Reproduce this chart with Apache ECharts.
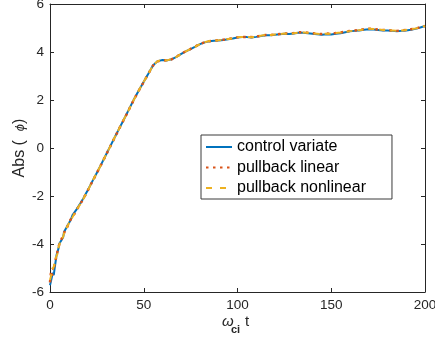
<!DOCTYPE html>
<html>
<head>
<meta charset="utf-8">
<script src="https://cdn.jsdelivr.net/npm/echarts@6/dist/echarts.min.js"></script>
<style>html,body{margin:0;padding:0;background:#fff}#c{width:435px;height:342px}</style>
</head>
<body>
<div id="c"></div>
<script>
const xTicks = [0, 50, 100, 150, 200];
const yTicks = [-6, -4, -2, 0, 2, 4, 6];
const seriesNames = ['control variate', 'pullback linear', 'pullback nonlinear'];

const t = [0,0.5,1,1.5,2,2.5,3,3.5,4,4.5,5,5.5,6,7,7.5,8,9,10,11,12,13,14,15,16,17,18,19,20,
  22.5,25,27.5,30,32.5,35,37.5,40,42.5,45,47.5,50,52.5,55,57.5,60,62.5,65,67.5,70,
  72.5,75,77.5,80,82.5,85,87.5,90,92.5,95,97.5,100,102.5,105,107.5,110,112.5,115,117.5,120,
  122.5,125,127.5,130,132.5,135,137.5,140,142.5,145,147.5,150,152.5,155,157.5,160,162.5,165,167.5,170,
  172.5,175,177.5,180,182.5,185,187.5,190,192.5,195,197.5,200];

const controlVariate = [-5.72,-5.55,-5.62,-5.2,-5.3,-5.0,-4.95,-4.45,-4.5,-4.2,-3.98,-4.05,-3.85,-3.72,-3.5,-3.55,-3.28,-3.2,-3.0,-2.8,-2.72,-2.58,-2.45,-2.33,-2.2,-2.08,-1.92,-1.78,
  -1.4,-1.03,-0.65,-0.26,0.13,0.52,0.9,1.28,1.67,2.06,2.42,2.76,3.1,3.45,3.62,3.67,3.65,3.7,3.8,3.92,
  4.03,4.12,4.22,4.33,4.4,4.45,4.47,4.48,4.5,4.53,4.56,4.6,4.62,4.62,4.6,4.63,4.67,4.7,4.7,4.72,
  4.74,4.76,4.75,4.77,4.8,4.8,4.78,4.76,4.74,4.72,4.74,4.73,4.76,4.78,4.82,4.86,4.88,4.9,4.93,4.95,
  4.94,4.92,4.9,4.9,4.88,4.86,4.88,4.9,4.93,4.97,5.02,5.08];

const pullbackLinear = [-5.6,-5.2,-5.35,-5.0,-5.1,-4.8,-4.85,-4.5,-4.3,-4.35,-4.0,-3.9,-3.95,-3.65,-3.6,-3.45,-3.35,-3.12,-3.05,-2.85,-2.75,-2.6,-2.48,-2.35,-2.22,-2.06,-1.95,-1.8,
  -1.41,-1.04,-0.66,-0.27,0.12,0.51,0.9,1.27,1.66,2.05,2.41,2.75,3.1,3.44,3.61,3.66,3.64,3.7,3.81,3.93,
  4.03,4.13,4.23,4.33,4.41,4.45,4.48,4.49,4.51,4.54,4.57,4.61,4.63,4.63,4.62,4.64,4.68,4.71,4.71,4.73,
  4.75,4.77,4.77,4.79,4.82,4.82,4.8,4.78,4.76,4.75,4.77,4.76,4.79,4.81,4.85,4.88,4.9,4.92,4.95,4.97,
  4.96,4.94,4.92,4.91,4.9,4.88,4.9,4.92,4.95,4.98,5.03,5.08];

const pullbackNonlinear = [-5.5,-5.35,-5.1,-5.15,-4.95,-4.9,-4.6,-4.6,-4.4,-4.15,-4.1,-3.9,-3.8,-3.7,-3.55,-3.5,-3.3,-3.15,-3.02,-2.88,-2.74,-2.62,-2.47,-2.36,-2.21,-2.09,-1.94,-1.8,
  -1.4,-1.03,-0.66,-0.26,0.12,0.52,0.9,1.28,1.66,2.05,2.42,2.76,3.1,3.45,3.62,3.67,3.65,3.71,3.8,3.92,
  4.03,4.13,4.22,4.33,4.41,4.46,4.48,4.49,4.51,4.54,4.57,4.61,4.63,4.63,4.61,4.64,4.68,4.71,4.71,4.73,
  4.75,4.77,4.76,4.78,4.81,4.81,4.8,4.77,4.76,4.75,4.76,4.76,4.79,4.81,4.84,4.87,4.89,4.91,4.94,4.97,
  4.96,4.94,4.92,4.91,4.9,4.88,4.9,4.92,4.95,4.98,5.03,5.08];

const FONT = 'Liberation Sans, Arial, Helvetica, sans-serif';
const AX = '#262626';
const zip = v => t.map((x, i) => [x, v[i]]);

const chart = echarts.init(document.getElementById('c'), null, {renderer: 'canvas'});

const baseX = {
  type: 'value', min: xTicks[0], max: xTicks[xTicks.length - 1], interval: xTicks[1] - xTicks[0],
  splitLine: {show: false},
  axisLine: {show: true, onZero: false, lineStyle: {color: AX, width: 1}},
  axisTick: {show: true, inside: true, length: 4, lineStyle: {color: AX}}
};
const baseY = {
  type: 'value', min: yTicks[0], max: yTicks[yTicks.length - 1], interval: yTicks[1] - yTicks[0],
  splitLine: {show: false},
  axisLine: {show: true, onZero: false, lineStyle: {color: AX, width: 1}},
  axisTick: {show: true, inside: true, length: 4, lineStyle: {color: AX}}
};

chart.setOption({
  animation: false,
  backgroundColor: '#fff',
  textStyle: {fontFamily: FONT},
  grid: {left: 50, right: 10, top: 4, bottom: 50, containLabel: false, outerBoundsMode: 'none'},
  xAxis: [
    Object.assign({}, baseX, {position: 'bottom',
      axisLabel: {show: true, color: AX, fontSize: 13.5, fontFamily: FONT, margin: 6}}),
    Object.assign({}, baseX, {position: 'top', axisLabel: {show: false}})
  ],
  yAxis: [
    Object.assign({}, baseY, {position: 'left',
      axisLabel: {show: true, color: AX, fontSize: 13.5, fontFamily: FONT, margin: 6},
      name: '{a|Abs (  }{p|ϕ}{a|)}', nameLocation: 'middle', nameRotate: 90, nameGap: 22,
      nameMoveOverlap: false,
      nameTextStyle: {rich: {
        a: {fontSize: 16, color: AX, fontFamily: FONT},
        p: {fontSize: 13, color: AX, fontFamily: FONT, fontStyle: 'italic'}
      }}}),
    Object.assign({}, baseY, {position: 'right', axisLabel: {show: false}})
  ],
  legend: {
    orient: 'vertical', left: 201, top: 135,
    backgroundColor: '#fff', borderColor: '#3a3a3a', borderWidth: 1,
    padding: [4, 26, 3, 4], itemWidth: 26, itemHeight: 14, itemGap: 4.5,
    itemStyle: {opacity: 0, color: 'transparent', borderWidth: 0},
    textStyle: {fontSize: 16, color: '#000', fontFamily: FONT},
    data: [
      {name: seriesNames[0]},
      {name: seriesNames[1]},
      {name: seriesNames[2], lineStyle: {type: [6, 8]}}
    ]
  },
  series: [
    {name: seriesNames[0], type: 'line', data: zip(controlVariate), showSymbol: false, symbol: 'none',
      lineStyle: {color: '#0072BD', width: 2}, itemStyle: {color: '#0072BD'}, z: 2},
    {name: seriesNames[1], type: 'line', data: zip(pullbackLinear), showSymbol: false, symbol: 'none',
      lineStyle: {color: '#D95319', width: 2.5, type: [2.5, 4.5]}, itemStyle: {color: '#D95319'}, z: 3},
    {name: seriesNames[2], type: 'line', data: zip(pullbackNonlinear), showSymbol: false, symbol: 'none',
      lineStyle: {color: '#EDB120', width: 2, type: [6, 5]}, itemStyle: {color: '#EDB120'}, z: 4}
  ],
  graphic: [
    {type: 'text', left: 222, top: 314, style: {text: 'ω', fontSize: 15, fill: AX, fontFamily: FONT, fontStyle: 'italic'}},
    {type: 'text', left: 231, top: 324, style: {text: 'ci', fontSize: 11, fill: AX, fontFamily: FONT, fontWeight: 'bold'}},
    {type: 'text', left: 245, top: 314, style: {text: 't', fontSize: 15, fill: AX, fontFamily: FONT}}
  ]
});
</script>
</body>
</html>
